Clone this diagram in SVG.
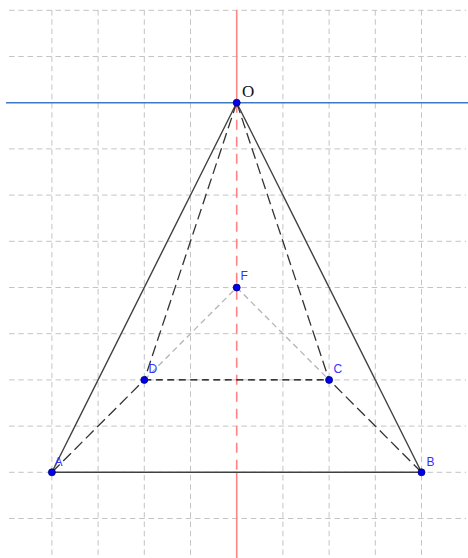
<svg xmlns="http://www.w3.org/2000/svg" width="468" height="558" viewBox="0 0 468 558">
<style>
.grid line{stroke:#c4c4c4;stroke-width:1;stroke-dasharray:5.5,3.8}
.solid{stroke:#404040;stroke-width:1.4;fill:none}
.dash{stroke:#333;stroke-width:1.3;stroke-dasharray:11,5;fill:none}
.dashk{stroke:#000;stroke-width:1.3;stroke-dasharray:7,4.5;fill:none}
.light{stroke:#b4b4b4;stroke-width:1.3;stroke-dasharray:6,4;fill:none}
.pt{fill:#0000ee;stroke:#000066;stroke-width:0.8}
.lbl{font-family:"Liberation Sans",Arial,sans-serif;font-size:12px;fill:#3333ff}
.olbl{font-family:"Liberation Serif","Times New Roman",serif;font-size:17px;fill:#111}
</style>
<rect width="468" height="558" fill="#fff"/>
<g class="grid" id="grid">
<line x1="51.9" y1="10" x2="51.9" y2="558"/>
<line x1="98.1" y1="10" x2="98.1" y2="558"/>
<line x1="144.3" y1="10" x2="144.3" y2="558"/>
<line x1="190.5" y1="10" x2="190.5" y2="558"/>
<line x1="282.9" y1="10" x2="282.9" y2="558"/>
<line x1="329.1" y1="10" x2="329.1" y2="558"/>
<line x1="375.3" y1="10" x2="375.3" y2="558"/>
<line x1="421.5" y1="10" x2="421.5" y2="558"/>
<line x1="9" y1="10.3" x2="466" y2="10.3"/>
<line x1="9" y1="56.5" x2="466" y2="56.5"/>
<line x1="9" y1="148.9" x2="466" y2="148.9"/>
<line x1="9" y1="195.1" x2="466" y2="195.1"/>
<line x1="9" y1="241.3" x2="466" y2="241.3"/>
<line x1="9" y1="287.5" x2="466" y2="287.5"/>
<line x1="9" y1="333.7" x2="466" y2="333.7"/>
<line x1="9" y1="379.9" x2="466" y2="379.9"/>
<line x1="9" y1="426.1" x2="466" y2="426.1"/>
<line x1="9" y1="472.3" x2="466" y2="472.3"/>
<line x1="9" y1="518.5" x2="466" y2="518.5"/>
</g>
<g id="axes">
<line x1="6" y1="102.7" x2="468" y2="102.7" stroke="#3f79c6" stroke-width="1.4"/>
<line x1="236.7" y1="10" x2="236.7" y2="102.7" stroke="#ff8484" stroke-width="1.6"/>
<line x1="236.7" y1="102.7" x2="236.7" y2="472.3" stroke="#ff8484" stroke-width="1.6" stroke-dasharray="10,7"/>
<line x1="236.7" y1="472.3" x2="236.7" y2="558" stroke="#ff8484" stroke-width="1.6"/>
</g>
<g id="connectors">
<line class="solid" x1="236.7" y1="102.7" x2="51.9" y2="472.3"/>
<line class="solid" x1="236.7" y1="102.7" x2="421.5" y2="472.3"/>
<line class="solid" x1="51.9" y1="472.3" x2="421.5" y2="472.3"/>
<line class="dash" x1="236.7" y1="102.7" x2="144.3" y2="379.9"/>
<line class="dash" x1="236.7" y1="102.7" x2="329.1" y2="379.9"/>
<line class="dashk" x1="144.3" y1="379.9" x2="329.1" y2="379.9"/>
<line class="dash" x1="51.9" y1="472.3" x2="144.3" y2="379.9"/>
<line class="dash" x1="421.5" y1="472.3" x2="329.1" y2="379.9"/>
<line class="light" x1="144.3" y1="379.9" x2="236.7" y2="287.5"/>
<line class="light" x1="236.7" y1="287.5" x2="329.1" y2="379.9"/>
</g>
<g id="O"><circle class="pt" cx="236.7" cy="102.7" r="3.5"/><text class="olbl" x="242" y="97">O</text></g>
<g id="A"><circle class="pt" cx="51.9" cy="472.3" r="3.5"/><text class="lbl" x="54.5" y="466">A</text></g>
<g id="B"><circle class="pt" cx="421.5" cy="472.3" r="3.5"/><text class="lbl" x="426.5" y="466">B</text></g>
<g id="C"><circle class="pt" cx="329.1" cy="379.9" r="3.5"/><text class="lbl" x="333.5" y="373">C</text></g>
<g id="D"><circle class="pt" cx="144.3" cy="379.9" r="3.5"/><text class="lbl" x="148.5" y="373">D</text></g>
<g id="F"><circle class="pt" cx="236.7" cy="287.5" r="3.5"/><text class="lbl" x="240.5" y="280">F</text></g>
</svg>
